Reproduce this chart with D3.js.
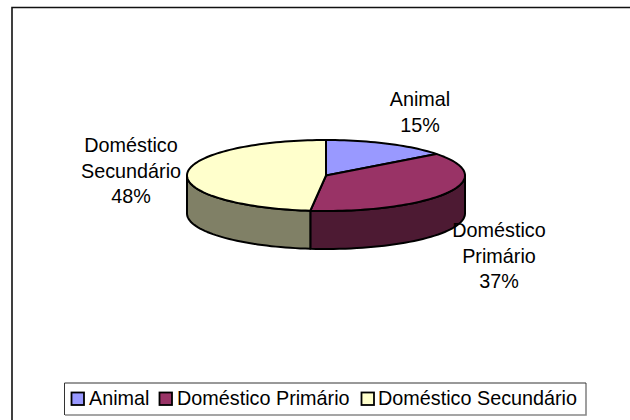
<!DOCTYPE html>
<html><head><meta charset="utf-8">
<script src="https://cdn.jsdelivr.net/npm/d3@7/dist/d3.min.js"></script>
<style>html,body{margin:0;padding:0;background:#fff;overflow:hidden}svg{display:block}text{font-family:"Liberation Sans",Arial,sans-serif;font-size:19.8px;fill:#000}</style>
</head><body><svg id="c" width="630" height="420"></svg>
<script>
const categories=["Animal","Doméstico Primário","Doméstico Secundário"];
const values=[14.6,37.2,48.2];
const topColors=["#9999ff","#993366","#ffffcc"];
const sideColors=["#4d4d80","#4d1a33","#808066"];
const labelLines=[["Animal","15%"],["Doméstico","Primário","37%"],["Doméstico","Secundário","48%"]];
const labelAnchors=[[420,106],[499,237],[131,152]];

const svg=d3.select("#c");
svg.append("path").attr("d",d3.line()([[12,420],[12,7.5],[630,7.5]])).attr("fill","none").attr("stroke","#111").attr("stroke-width",1.6);

const cx=326,cy=175.5,rx=139,ry=35.5,depth=38;
const arcs=d3.pie().sort(null).value(d=>d)(values);
const px=a=>cx+rx*Math.sin(a), py=a=>cy-ry*Math.cos(a);
const g=svg.append("g").attr("stroke","#000").attr("stroke-width",2).attr("stroke-linejoin","round");
function wall(a0,a1,color){
  const lo=Math.max(a0,Math.PI/2), hi=Math.min(a1,Math.PI*1.5);
  if(hi<=lo) return;
  const pts=d3.range(0,41).map(i=>lo+(hi-lo)*i/40);
  const top=pts.map(a=>[px(a),py(a)]), bot=pts.map(a=>[px(a),py(a)+depth]).reverse();
  g.append("path").attr("d",d3.line()(top.concat(bot))+"Z").attr("fill",color);
}
arcs.forEach((d,i)=>wall(d.startAngle,d.endAngle,sideColors[i]));
arcs.forEach((d,i)=>{
  const n=Math.max(8,Math.ceil((d.endAngle-d.startAngle)*30));
  const pts=d3.range(0,n+1).map(j=>{const a=d.startAngle+(d.endAngle-d.startAngle)*j/n;return [px(a),py(a)];});
  g.append("path").attr("d",d3.line()([[cx,cy],...pts])+"Z").attr("fill",topColors[i]);
});
labelLines.forEach((ls,i)=>{
  ls.forEach((t,j)=>svg.append("text").attr("x",labelAnchors[i][0]).attr("y",labelAnchors[i][1]+j*25.5).attr("text-anchor","middle").text(t));
});
svg.append("path").attr("d",d3.line()([[586,383],[586,415],[65,415]])).attr("fill","none").attr("stroke","#888").attr("stroke-width",1.6);
svg.append("path").attr("d",d3.line()([[64.5,415],[64.5,383],[586,383]])).attr("fill","none").attr("stroke","#333").attr("stroke-width",1);
const swatchX=[71.5,159.5,361.5], textX=[89,177,378];
categories.forEach((c,i)=>{
  svg.append("rect").attr("x",swatchX[i]).attr("y",392.5).attr("width",12.5).attr("height",12.5).attr("fill",topColors[i]).attr("stroke","#000").attr("stroke-width",1.8);
  svg.append("text").attr("x",textX[i]).attr("y",405).text(c);
});
</script></body></html>
